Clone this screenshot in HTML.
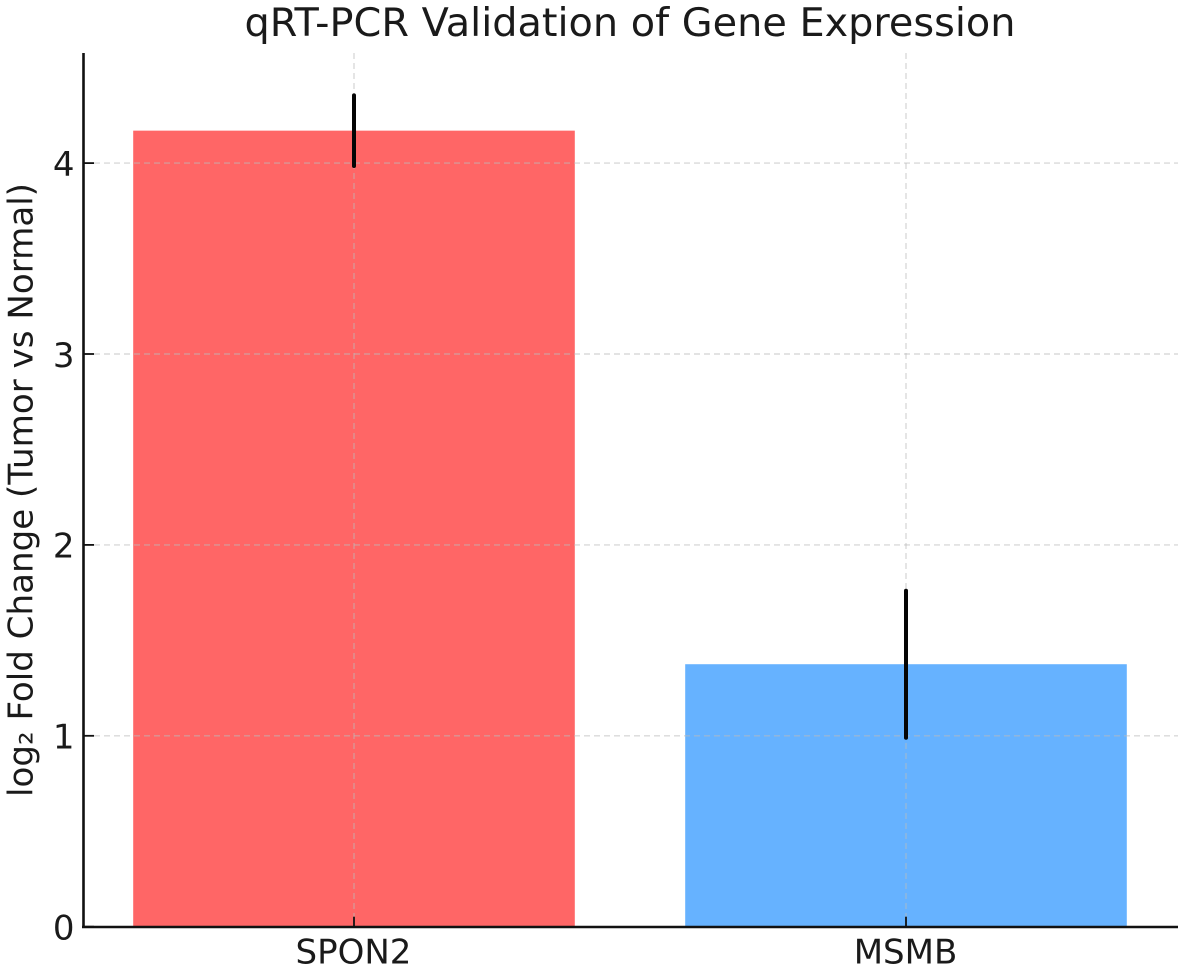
<!DOCTYPE html>
<html lang="en">
<head>
<meta charset="utf-8">
<title>qRT-PCR Validation of Gene Expression</title>
<style>
html,body{margin:0;padding:0;background:#fff;}
svg{display:block;}
text{font-family:"DejaVu Sans","Liberation Sans",sans-serif;fill:#1a1a1a;}
</style>
</head>
<body>
<svg id="chart" xmlns="http://www.w3.org/2000/svg" width="1181" height="973" viewBox="0 0 1181 973">
  <text x="630" y="36" font-size="39.3" text-anchor="middle" textLength="771" lengthAdjust="spacingAndGlyphs">qRT-PCR Validation of Gene Expression</text>
  <text transform="translate(32.5,490) rotate(-90)" font-size="34" text-anchor="middle" textLength="614" lengthAdjust="spacingAndGlyphs">log₂ Fold Change (Tumor vs Normal)</text>
</svg>
<script>
const categories = ['SPON2', 'MSMB'];
const foldChange = [4.17, 1.375];
const errorValues = [0.185, 0.385];
const barColors = ['#ff6666', '#66b2ff'];
const yTickValues = [0, 1, 2, 3, 4];
const yTickLabels = ['0', '1', '2', '3', '4'];
const barWidthFraction = 0.8;

const svgNS = 'http://www.w3.org/2000/svg';
const chart = document.getElementById('chart');
const xStep = 552;
const xScale = function (i) { return 354 + i * xStep; };
const yScale = function (v) { return 926.7 - v * 190.9; };

function make(tag, attrs, parent) {
  const el = document.createElementNS(svgNS, tag);
  Object.keys(attrs).forEach(function (k) { el.setAttribute(k, attrs[k]); });
  (parent || chart).appendChild(el);
  return el;
}

const halfBar = xStep * barWidthFraction / 2;

categories.forEach(function (name, i) {
  const bar = make('rect', {
    x: xScale(i) - halfBar,
    y: yScale(foldChange[i]),
    width: halfBar * 2,
    height: yScale(0) - yScale(foldChange[i]),
    fill: barColors[i]
  });
  
  
});

yTickValues.forEach(function (v) {
  if (v === 0) return;
  const grid = make('line', {
    x1: 84, x2: 1178, y1: yScale(v), y2: yScale(v),
    stroke: '#bbbbbb', 'stroke-opacity': 0.55, 'stroke-width': 1.4, 'stroke-dasharray': '6 4'
  });
  
  
});

categories.forEach(function (name, i) {
  const grid = make('line', {
    x1: xScale(i), x2: xScale(i), y1: 53, y2: yScale(0),
    stroke: '#bbbbbb', 'stroke-opacity': 0.55, 'stroke-width': 1.4, 'stroke-dasharray': '6 4'
  });
  
  
});

categories.forEach(function (name, i) {
  const err = make('line', {
    x1: xScale(i), x2: xScale(i),
    y1: yScale(foldChange[i] + errorValues[i]),
    y2: yScale(foldChange[i] - errorValues[i]),
    stroke: '#050505', 'stroke-width': 4, 'stroke-linecap': 'round'
  });
  
  
});

const yAxisLine = make('line', { x1: 83.5, x2: 83.5, y1: 53, y2: 928, stroke: '#111', 'stroke-width': 2.6 });



const xAxisLine = make('line', { x1: 82, x2: 1178, y1: 927, y2: 927, stroke: '#111', 'stroke-width': 2.6 });



yTickValues.forEach(function (v, i) {
  const tick = make('line', { x1: 84, x2: 94, y1: yScale(v), y2: yScale(v), stroke: '#111', 'stroke-width': 1.8 });
  
  
  const label = make('text', { x: 74.5, y: yScale(v) + 12.8, 'font-size': 34, 'text-anchor': 'end' });
  label.textContent = yTickLabels[i];
  
  
});

categories.forEach(function (name, i) {
  const tick = make('line', { x1: xScale(i), x2: xScale(i), y1: yScale(0) - 10, y2: yScale(0), stroke: '#111', 'stroke-width': 1.8 });
  
  
  const label = make('text', { x: xScale(i) - 0.5, y: 963.3, 'font-size': 34, 'text-anchor': 'middle' });
  label.textContent = name;
  
  
});
</script>
</body>
</html>
